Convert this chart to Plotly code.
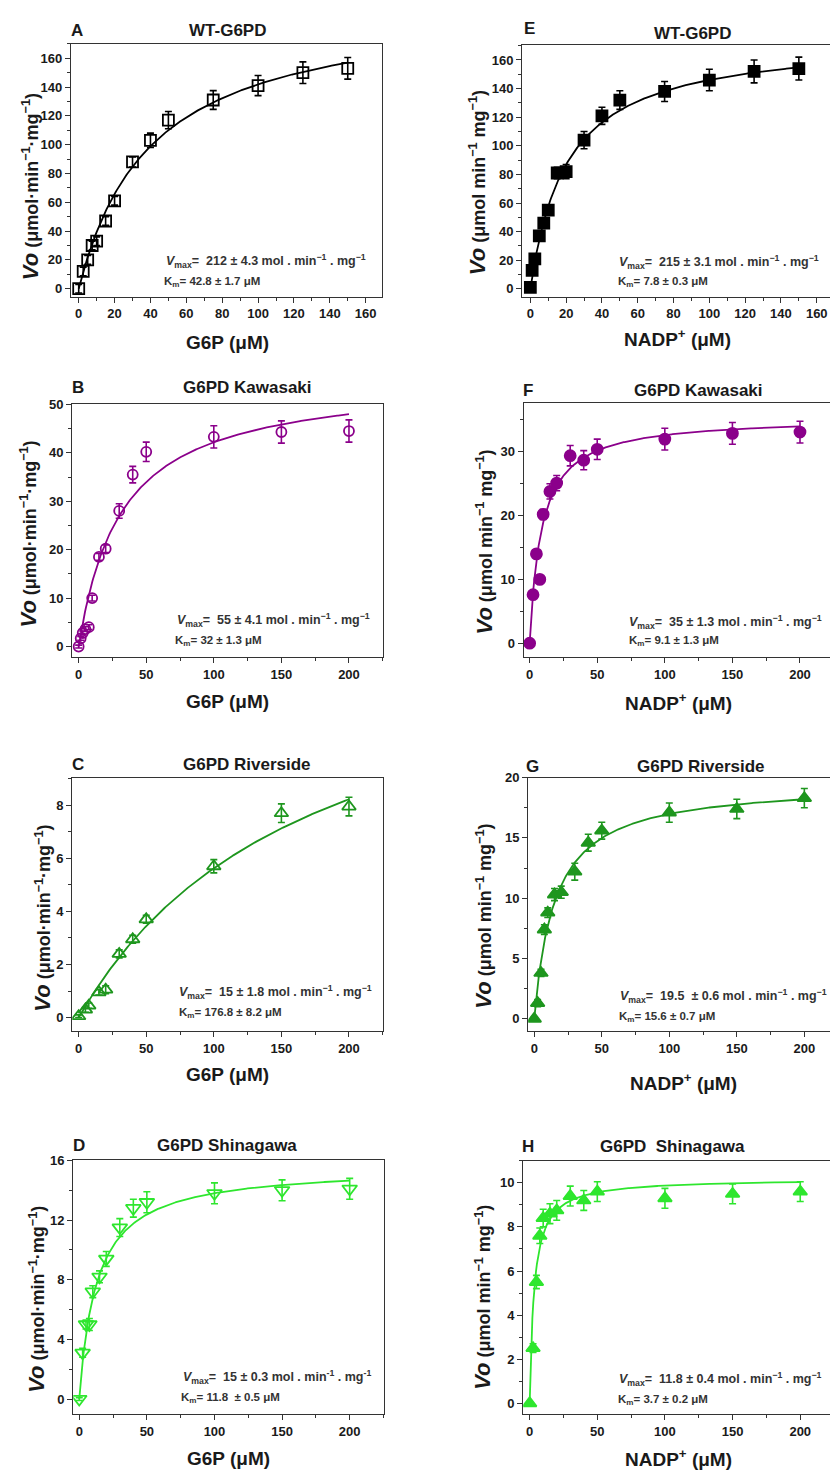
import numpy as np
import plotly.graph_objects as go

W, H = 830, 1473
FONT = "Liberation Sans, Arial, sans-serif"

# ---------------- data ----------------
A_x = [0, 2.5, 5, 7.5, 10, 15, 20, 30, 40, 50, 75, 100, 125, 150]
A_y = [0, 12, 20, 30, 33, 47, 61, 88, 103, 117, 131, 141, 150, 153]
A_err = [3, 3, 3, 3, 3, 3, 3, 3.5, 5, 6, 6.5, 7, 7.5, 7.5]

E_x = [0, 1, 2.5, 5, 7.5, 10, 15, 20, 30, 40, 50, 75, 100, 125, 150]
E_y = [1, 13, 21, 37, 46, 55, 81, 82, 104, 121, 132, 138, 146, 152, 154]
E_err = [2, 3, 3, 3, 3, 3, 4, 5, 6, 6, 6.5, 7, 7.5, 8, 8]

B_x = [0, 1.5, 3, 5, 7.5, 10, 15, 20, 30, 40, 50, 100, 150, 200]
B_y = [0, 1.7, 2.8, 3.6, 4.0, 10, 18.5, 20.2, 28, 35.5, 40.2, 43.3, 44.3, 44.5]
B_err = [0.3, 0.4, 0.4, 0.5, 0.5, 0.6, 0.7, 0.8, 1.5, 1.7, 2, 2.3, 2.3, 2.3]

F_x = [0, 2.5, 5, 7.5, 10, 15, 20, 30, 40, 50, 100, 150, 200]
F_y = [0, 7.6, 14, 10, 20.2, 23.8, 25.1, 29.4, 28.7, 30.4, 32, 32.9, 33.1]
F_err = [0.3, 0.4, 0.5, 0.5, 0.8, 1.2, 1.2, 1.6, 1.5, 1.6, 1.7, 1.7, 1.7]

C_x = [0, 5, 7.5, 15, 20, 30, 40, 50, 100, 150, 200]
C_y = [0.05, 0.3, 0.45, 0.95, 1.05, 2.4, 2.95, 3.7, 5.7, 7.7, 7.95]
C_err = [0.05, 0.1, 0.1, 0.1, 0.15, 0.15, 0.15, 0.15, 0.25, 0.35, 0.35]

G_x = [0, 2.5, 5, 7.5, 10, 15, 20, 30, 40, 50, 100, 150, 200]
G_y = [0, 1.3, 3.8, 7.4, 8.8, 10.3, 10.5, 12.2, 14.6, 15.6, 17.1, 17.4, 18.3]
G_err = [0.1, 0.3, 0.3, 0.4, 0.4, 0.5, 0.5, 0.7, 0.7, 0.7, 0.8, 0.8, 0.8]

D_x = [0, 2.5, 5, 7.5, 10, 15, 20, 30, 40, 50, 100, 150, 200]
D_y = [0, 3.1, 5.0, 5.0, 7.2, 8.2, 9.4, 11.5, 12.8, 13.2, 13.8, 14.0, 14.1]
D_err = [0.1, 0.3, 0.3, 0.4, 0.4, 0.4, 0.5, 0.6, 0.6, 0.7, 0.7, 0.7, 0.7]

H_x = [0, 2.5, 5, 7.5, 10, 15, 20, 30, 40, 50, 100, 150, 200]
H_y = [0, 2.5, 5.5, 7.6, 8.4, 8.6, 8.75, 9.4, 9.2, 9.6, 9.3, 9.5, 9.6]
H_err = [0.05, 0.2, 0.3, 0.35, 0.4, 0.45, 0.45, 0.45, 0.45, 0.45, 0.45, 0.45, 0.45]

# Michaelis-Menten fit curve parameters (Vmax, Km) as drawn
fit_vmax = {"A": 199.6, "E": 176.0, "B": 55.6, "F": 35.5, "C": 15.3, "G": 19.6, "D": 15.6, "H": 10.2}
fit_km = {"A": 40.7, "E": 20.5, "B": 31.8, "F": 8.8, "C": 172.0, "G": 15.4, "D": 13.0, "H": 3.3}
fit_xmax = {"A": 150, "E": 150, "B": 200, "F": 200, "C": 200, "G": 200, "D": 200, "H": 200}

titles = {"A": "WT-G6PD", "E": "WT-G6PD", "B": "G6PD Kawasaki", "F": "G6PD Kawasaki",
          "C": "G6PD Riverside", "G": "G6PD Riverside", "D": "G6PD Shinagawa", "H": "G6PD  Shinagawa"}
vmax_txt = {"A": "212 ± 4.3", "E": "215 ± 3.1", "B": "55 ± 4.1", "F": "35 ± 1.3",
            "C": "15 ± 1.8", "G": "19.5  ± 0.6", "D": "15 ± 0.3", "H": "11.8 ± 0.4"}
km_txt = {"A": "42.8 ± 1.7", "E": "7.8 ± 0.3", "B": "32 ± 1.3", "F": "9.1 ± 1.3",
          "C": "176.8 ± 8.2", "G": "15.6 ± 0.7", "D": "11.8  ± 0.5", "H": "3.7 ± 0.2"}
data = {"A": (A_x, A_y, A_err), "E": (E_x, E_y, E_err), "B": (B_x, B_y, B_err), "F": (F_x, F_y, F_err),
        "C": (C_x, C_y, C_err), "G": (G_x, G_y, G_err), "D": (D_x, D_y, D_err), "H": (H_x, H_y, H_err)}

# ---------------- styling / layout (pixels) ----------------
PURPLE = "#8B008B"
GREEN = "#1E961E"
LIME = "#2EE62E"
style = {
    "A": dict(symbol="square-open", color="#000000", size=11),
    "E": dict(symbol="square", color="#000000", size=11),
    "B": dict(symbol="circle-open", color=PURPLE, size=10),
    "F": dict(symbol="circle", color=PURPLE, size=11),
    "C": dict(symbol="triangle-up-open", color=GREEN, size=12),
    "G": dict(symbol="triangle-up", color=GREEN, size=12),
    "D": dict(symbol="triangle-down-open", color=LIME, size=13),
    "H": dict(symbol="triangle-up", color=LIME, size=12),
}
# plot frame px: left, right, top, bottom ; axis ranges ; dticks
frame = {
    "A": (71, 382, 37, 291, [-4.3, 169.1], [-5.5, 170], 20, 20, 10, 10),
    "E": (522.3, 830, 38.3, 291, [-4.5, 167.4], [-5.4, 170.4], 20, 20, 10, 10),
    "B": (72.3, 383.3, 399.3, 653.3, [-4.7, 225.4], [-2.2, 50], 50, 10, 25, 5),
    "F": (523.7, 830, 398.3, 653.3, [-4.4, 222.2], [-2.2, 37.6], 50, 10, 25, 5),
    "C": (72.3, 383.3, 774.3, 1028.7, [-4.7, 225.4], [-0.5, 9.04], 50, 2, 25, 1),
    "G": (528.3, 830, 774.3, 1028.7, [-4.4, 219], [-1.0, 20], 50, 5, 25, 2.5),
    "D": (73.3, 384.3, 1159, 1414, [-4.4, 225.6], [-1.02, 16], 50, 4, 25, 2),
    "H": (523.3, 830, 1159.3, 1414, [-4.7, 222], [-0.5, 11.0], 50, 2, 25, 1),
}
# text positions px: letter(x,y), title(x,y), ytitle(x,y), xtitle(x,y), vmax(x,y), km(x,y)
textpos = {
    "A": ((77, 24), (227, 24), (30, 181), (227, 337), (164, 255), (162, 276)),
    "E": ((529, 22), (692, 27), (477, 177), (677, 333), (617, 256), (616, 276)),
    "B": ((78, 382), (247, 382), (28, 530), (227, 698), (175, 616), (173, 637)),
    "F": ((528, 385), (698, 385), (484, 538), (678, 698), (627, 618), (627, 637)),
    "C": ((78, 761), (247, 761), (43, 916), (227, 1073), (177, 990), (177, 1011)),
    "G": ((532, 763), (701, 763), (484, 914), (683, 1080), (618, 994), (617, 1015)),
    "D": ((79, 1144), (227, 1144), (37, 1299), (228, 1458), (181, 1377), (179, 1398)),
    "H": ((528, 1145), (672, 1145), (483, 1297), (678, 1458), (617, 1379), (616, 1400)),
}
left_panels = ["A", "B", "C", "D"]
order = ["A", "B", "C", "D", "E", "F", "G", "H"]

def px(x):
    return x / W

def py(y):
    return 1 - y / H

fig = go.Figure()
layout = {}
annotations = []
TXT = "#1a1a1a"
FRAME = "#333333"

for i, k in enumerate(order):
    n = i + 1
    xa = "x" if n == 1 else f"x{n}"
    ya = "y" if n == 1 else f"y{n}"
    xs, ys, es = data[k]
    st = style[k]
    l, r, t, b, xr, yr, xdt, ydt, xmin, ymin = frame[k]

    # fit curve
    xf = np.linspace(0, fit_xmax[k], 300)
    yf = fit_vmax[k] * xf / (fit_km[k] + xf)
    fig.add_trace(go.Scatter(x=xf, y=yf, mode="lines", xaxis=xa, yaxis=ya,
                             line=dict(color=st["color"], width=1.8), showlegend=False, hoverinfo="skip"))
    # data points
    fig.add_trace(go.Scatter(
        x=xs, y=ys, mode="markers", xaxis=xa, yaxis=ya, showlegend=False,
        error_y=dict(type="data", array=es, visible=True, color=st["color"], thickness=1.6, width=3.5),
        marker=dict(symbol=st["symbol"], size=st["size"], color=st["color"],
                    line=dict(color=st["color"], width=1.8)),
    ))

    axcommon = dict(showgrid=False, zeroline=False, showline=True, linecolor=FRAME, linewidth=1.3,
                    ticks="outside", ticklen=5, tickwidth=1.2, tickcolor=FRAME,
                    tickfont=dict(family=FONT, size=13, color=TXT, weight="bold"))
    layout["xaxis" if n == 1 else f"xaxis{n}"] = dict(
        axcommon, domain=[px(l), px(r)], range=xr, anchor=ya, dtick=xdt, tick0=0, mirror=True,
        minor=dict(dtick=xmin, tick0=0, ticks="outside", ticklen=3, tickcolor=FRAME, showgrid=False))
    layout["yaxis" if n == 1 else f"yaxis{n}"] = dict(
        axcommon, domain=[py(b), py(t)], range=yr, anchor=xa, dtick=ydt, tick0=0,
        mirror=(k in left_panels),
        minor=dict(dtick=ymin, tick0=0, ticks="outside", ticklen=3, tickcolor=FRAME, showgrid=False))

    (lx, ly), (tx, ty), (yx, yy), (xx, xy), (vx, vy), (kx, ky) = textpos[k]
    f17 = dict(family=FONT, size=17, color=TXT, weight="bold")
    annotations.append(dict(text=k, x=px(lx), y=py(ly), xref="paper", yref="paper", showarrow=False,
                            xanchor="center", yanchor="middle", font=f17))
    annotations.append(dict(text=titles[k], x=px(tx), y=py(ty), xref="paper", yref="paper", showarrow=False,
                            xanchor="center", yanchor="middle", font=f17))
    if k in left_panels:
        ytitle = ('<b><i><span style="font-size:22px">Vo</span></i></b> '
                  '<b>(μmol·min<sup>−1</sup>·mg<sup>−1</sup>)</b>')
        xtitle = "<b>G6P (μM)</b>"
    else:
        ytitle = ('<b><i><span style="font-size:22px">Vo</span></i></b> '
                  '<b>(μmol min<sup>−1</sup> mg<sup>−1</sup>)</b>')
        xtitle = "<b>NADP<sup>+</sup> (μM)</b>"
    annotations.append(dict(text=ytitle, x=px(yx), y=py(yy), xref="paper", yref="paper", showarrow=False,
                            textangle=-90, xanchor="center", yanchor="middle",
                            font=dict(family=FONT, size=18, color=TXT)))
    annotations.append(dict(text=xtitle, x=px(xx), y=py(xy), xref="paper", yref="paper", showarrow=False,
                            xanchor="center", yanchor="middle", font=dict(family=FONT, size=19, color=TXT)))
    sup = "-1" if k == "D" else "−1"
    annotations.append(dict(
        text=f"<b><i>V</i><sub>max</sub>=  {vmax_txt[k]} mol . min<sup>{sup}</sup> . mg<sup>{sup}</sup></b>",
        x=px(vx), y=py(vy), xref="paper", yref="paper", showarrow=False, xanchor="left", yanchor="middle",
        font=dict(family=FONT, size=12.5, color="#333333")))
    annotations.append(dict(
        text=f"<b>K<sub>m</sub>= {km_txt[k]} μM</b>",
        x=px(kx), y=py(ky), xref="paper", yref="paper", showarrow=False, xanchor="left", yanchor="middle",
        font=dict(family=FONT, size=11.5, color="#333333")))

fig.update_layout(width=W, height=H, margin=dict(l=0, r=0, t=0, b=0), plot_bgcolor="white",
                  paper_bgcolor="white", annotations=annotations, showlegend=False, **layout)
fig.write_html("out.html")
